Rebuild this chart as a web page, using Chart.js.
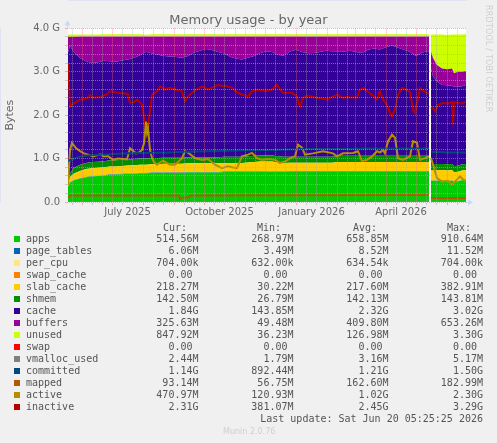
<!DOCTYPE html>
<html>
<head>
<meta charset="utf-8">
<title>Memory usage - by year</title>
<script src="https://cdn.jsdelivr.net/npm/chart.js@4.4.1/dist/chart.umd.min.js"></script>
<style>
    body {
        margin: 0;
        width: 497px;
        height: 443px;
        overflow: hidden;
        position: relative;
        background: #f0f0f0;
        font-family: "DejaVu Sans", sans-serif;
    }
    #chartBox { position: absolute; left: 0; top: 0; width: 497px; height: 222px; }
    #legend { position: absolute; left: 0; top: 0; width: 497px; height: 443px;
              font-family: "DejaVu Sans Mono", monospace; font-size: 10px; color: #555; }
    .cell { position: absolute; white-space: pre; line-height: 12px; }
    .swatch { position: absolute; width: 6px; height: 6px; }
    #rrdtool { position: absolute; left: 484px; top: 5px; writing-mode: vertical-rl;
               font-size: 8px; color: #cfcfcf; letter-spacing: 0.2px; }
    #munin { position: absolute; left: 223px; top: 427px; font-size: 8px; color: #cfcfcf; }
</style>
</head>
<body>
<div id="chartBox"><canvas id="memChart" width="497" height="222"></canvas></div>
<div id="legend"></div>
<div id="rrdtool">RRDTOOL / TOBI OETIKER</div>
<div id="munin">Munin 2.0.76</div>

<script>
// Series (values in G), x = days since the left edge of the graph
const seriesNames = ['apps', 'page_tables', 'per_cpu', 'swap_cache', 'slab_cache', 'shmem', 'cache',
    'buffers', 'unused', 'swap', 'vmalloc_used', 'committed', 'mapped', 'active', 'inactive'];
const seriesColors = ['#00CC00', '#0066B3', '#FFE680', '#FF8000', '#FFCC00', '#008F00', '#330099',
    '#990099', '#CCFF00', '#FF0000', '#808080', '#00487D', '#B35A00', '#B38F00', '#B30000'];

// Stacked areas share one x grid (362 = no data)
const days = [
    0, 2, 6, 12, 18, 24, 30, 36, 42, 48,
    54, 60, 66, 72, 78, 84, 90, 96, 102, 108,
    114, 120, 126, 132, 138, 144, 150, 156, 162, 168,
    174, 180, 186, 192, 198, 204, 210, 216, 222, 228,
    234, 240, 246, 252, 258, 264, 270, 276, 282, 288,
    294, 300, 306, 312, 318, 324, 330, 336, 342, 348,
    354, 360, 361, 362, 363, 365, 369, 374, 379, 384,
    386, 390, 394, 398
];
const apps = [
    0.36, 0.45, 0.50, 0.54, 0.57, 0.59, 0.60, 0.61, 0.63, 0.63,
    0.64, 0.65, 0.65, 0.66, 0.66, 0.67, 0.67, 0.67, 0.67, 0.67,
    0.67, 0.68, 0.68, 0.68, 0.68, 0.68, 0.68, 0.69, 0.69, 0.69,
    0.69, 0.69, 0.69, 0.69, 0.69, 0.70, 0.70, 0.70, 0.70, 0.70,
    0.70, 0.70, 0.70, 0.70, 0.70, 0.70, 0.70, 0.70, 0.70, 0.70,
    0.70, 0.70, 0.70, 0.70, 0.70, 0.70, 0.70, 0.70, 0.70, 0.70,
    0.70, 0.70, 0.70, null, 0.49, 0.49, 0.49, 0.49, 0.48, 0.49,
    0.47, 0.48, 0.50, 0.51
];
const pageTables = [
    0.004, 0.005, 0.006, 0.006, 0.007, 0.007, 0.007, 0.008, 0.008, 0.008,
    0.008, 0.008, 0.008, 0.008, 0.008, 0.009, 0.009, 0.009, 0.009, 0.009,
    0.009, 0.009, 0.009, 0.010, 0.010, 0.010, 0.010, 0.010, 0.010, 0.010,
    0.010, 0.010, 0.010, 0.010, 0.010, 0.010, 0.010, 0.010, 0.011, 0.011,
    0.011, 0.011, 0.011, 0.011, 0.011, 0.011, 0.011, 0.011, 0.011, 0.011,
    0.011, 0.011, 0.011, 0.011, 0.011, 0.011, 0.011, 0.011, 0.011, 0.011,
    0.011, 0.011, 0.011, null, 0.006, 0.006, 0.006, 0.006, 0.006, 0.006,
    0.006, 0.006, 0.006, 0.006
];
const perCpu = [
    0.0006, 0.0006, 0.0006, 0.0006, 0.0006, 0.0006, 0.0006, 0.0006, 0.0006, 0.0006,
    0.0006, 0.0006, 0.0006, 0.0006, 0.0006, 0.0006, 0.0006, 0.0006, 0.0006, 0.0006,
    0.0006, 0.0006, 0.0006, 0.0006, 0.0006, 0.0006, 0.0006, 0.0006, 0.0006, 0.0006,
    0.0006, 0.0006, 0.0006, 0.0006, 0.0006, 0.0006, 0.0006, 0.0006, 0.0006, 0.0006,
    0.0006, 0.0006, 0.0006, 0.0006, 0.0006, 0.0006, 0.0006, 0.0006, 0.0006, 0.0006,
    0.0006, 0.0006, 0.0006, 0.0006, 0.0006, 0.0006, 0.0006, 0.0006, 0.0006, 0.0006,
    0.0006, 0.0006, 0.0006, null, 0.0007, 0.0007, 0.0007, 0.0007, 0.0007, 0.0007,
    0.0007, 0.0007, 0.0007, 0.0007
];
const swapCache = [
    0, 0, 0, 0, 0, 0, 0, 0, 0, 0,
    0, 0, 0, 0, 0, 0, 0, 0, 0, 0,
    0, 0, 0, 0, 0, 0, 0, 0, 0, 0,
    0, 0, 0, 0, 0, 0, 0, 0, 0, 0,
    0, 0, 0, 0, 0, 0, 0, 0, 0, 0,
    0, 0, 0, 0, 0, 0, 0, 0, 0, 0,
    0, 0, 0, null, 0, 0, 0, 0, 0, 0,
    0, 0, 0, 0
];
const slabCache = [
    0.03, 0.12, 0.15, 0.17, 0.18, 0.18, 0.18, 0.18, 0.18, 0.18,
    0.18, 0.18, 0.19, 0.19, 0.19, 0.19, 0.19, 0.20, 0.20, 0.20,
    0.20, 0.20, 0.20, 0.20, 0.20, 0.20, 0.20, 0.20, 0.20, 0.20,
    0.20, 0.21, 0.22, 0.23, 0.23, 0.22, 0.20, 0.19, 0.19, 0.19,
    0.19, 0.19, 0.19, 0.19, 0.19, 0.19, 0.21, 0.21, 0.21, 0.21,
    0.21, 0.21, 0.21, 0.21, 0.21, 0.21, 0.21, 0.21, 0.21, 0.21,
    0.21, 0.21, 0.21, null, 0.24, 0.24, 0.24, 0.24, 0.24, 0.24,
    0.21, 0.21, 0.22, 0.22
];
const shmem = [
    0.03, 0.08, 0.13, 0.142, 0.142, 0.142, 0.142, 0.142, 0.142, 0.142,
    0.142, 0.142, 0.142, 0.142, 0.142, 0.142, 0.142, 0.142, 0.142, 0.142,
    0.142, 0.142, 0.142, 0.142, 0.142, 0.142, 0.142, 0.142, 0.142, 0.142,
    0.142, 0.142, 0.142, 0.142, 0.142, 0.142, 0.142, 0.142, 0.142, 0.142,
    0.142, 0.142, 0.142, 0.142, 0.142, 0.142, 0.142, 0.142, 0.142, 0.142,
    0.142, 0.142, 0.142, 0.142, 0.142, 0.142, 0.142, 0.142, 0.142, 0.142,
    0.142, 0.142, 0.142, null, 0.14, 0.14, 0.14, 0.14, 0.14, 0.14,
    0.14, 0.14, 0.14, 0.14
];
const cache = [
    3.02, 2.94, 2.66, 2.46, 2.34, 2.28, 2.29, 2.31, 2.28, 2.27,
    2.29, 2.30, 2.33, 2.38, 2.46, 2.41, 2.38, 2.34, 2.33, 2.32,
    2.30, 2.33, 2.41, 2.45, 2.49, 2.47, 2.42, 2.38, 2.30, 2.26,
    2.24, 2.27, 2.30, 2.35, 2.40, 2.38, 2.33, 2.33, 2.42, 2.46,
    2.41, 2.38, 2.39, 2.41, 2.44, 2.43, 2.41, 2.40, 2.42, 2.39,
    2.37, 2.44, 2.47, 2.45, 2.50, 2.54, 2.49, 2.44, 2.39, 2.30,
    2.38, 2.41, 2.41, null, 2.20, 2.02, 1.90, 1.82, 1.82, 1.80,
    1.83, 1.82, 1.80, 1.82
];
const buffers = [
    0.36, 0.21, 0.36, 0.49, 0.57, 0.61, 0.59, 0.56, 0.57, 0.58,
    0.55, 0.53, 0.49, 0.43, 0.35, 0.39, 0.42, 0.45, 0.46, 0.47,
    0.49, 0.45, 0.37, 0.33, 0.29, 0.31, 0.36, 0.39, 0.47, 0.51,
    0.53, 0.49, 0.45, 0.39, 0.34, 0.36, 0.43, 0.44, 0.35, 0.31,
    0.36, 0.39, 0.38, 0.36, 0.33, 0.34, 0.34, 0.35, 0.33, 0.36,
    0.38, 0.31, 0.28, 0.30, 0.25, 0.21, 0.26, 0.31, 0.36, 0.45,
    0.37, 0.34, 0.34, null, 0.39, 0.42, 0.38, 0.38, 0.37, 0.40,
    0.31, 0.34, 0.33, 0.32
];
const unused = [
    0.05, 0.05, 0.05, 0.05, 0.05, 0.05, 0.05, 0.05, 0.05, 0.05,
    0.05, 0.05, 0.05, 0.05, 0.04, 0.05, 0.05, 0.05, 0.05, 0.05,
    0.05, 0.05, 0.05, 0.05, 0.05, 0.05, 0.05, 0.05, 0.05, 0.05,
    0.05, 0.05, 0.05, 0.05, 0.05, 0.05, 0.05, 0.05, 0.05, 0.05,
    0.05, 0.05, 0.05, 0.05, 0.05, 0.05, 0.05, 0.05, 0.05, 0.05,
    0.05, 0.05, 0.05, 0.05, 0.05, 0.05, 0.05, 0.05, 0.05, 0.05,
    0.05, 0.05, 0.05, null, 0.39, 0.54, 0.70, 0.78, 0.79, 0.78,
    0.89, 0.86, 0.86, 0.85
];
const swap = [
    0, 0, 0, 0, 0, 0, 0, 0, 0, 0,
    0, 0, 0, 0, 0, 0, 0, 0, 0, 0,
    0, 0, 0, 0, 0, 0, 0, 0, 0, 0,
    0, 0, 0, 0, 0, 0, 0, 0, 0, 0,
    0, 0, 0, 0, 0, 0, 0, 0, 0, 0,
    0, 0, 0, 0, 0, 0, 0, 0, 0, 0,
    0, 0, 0, null, 0, 0, 0, 0, 0, 0,
    0, 0, 0, 0
];

// Lines, each with its own x points
const vmallocDays = [0, 361, 362, 363, 398];
const vmalloc = [0.002, 0.003, null, 0.002, 0.002];

const committedDays = [0, 6, 12, 25, 40, 60, 80, 100, 120, 140, 160, 180, 200, 220, 240, 260,
    280, 300, 320, 340, 361, 362, 363, 370, 380, 390, 398];
const committed = [0.95, 1.00, 1.05, 1.08, 1.10, 1.12, 1.13, 1.14, 1.16, 1.17, 1.18, 1.19, 1.20, 1.21, 1.22, 1.22,
    1.22, 1.23, 1.23, 1.23, 1.23, null, 1.15, 1.15, 1.14, 1.14, 1.14];

const mappedDays = [0, 2, 111, 112, 114, 121, 122, 361, 362, 363, 398];
const mapped = [0.10, 0.15, 0.15, 0.07, 0.10, 0.11, 0.15, 0.16, null, 0.09, 0.09];

const activeDays = [0, 2, 4, 6, 8, 12, 16, 20, 25, 30, 32, 36, 40, 45, 50, 55, 59, 62, 64, 68,
    71, 74, 76, 78, 79, 80, 82, 84, 86, 89, 95, 99, 102, 107, 114, 117, 121, 127, 134, 140,
    147, 154, 160, 164, 169, 174, 180, 184, 189, 194, 200, 207, 212, 218, 222, 227, 230, 234, 237, 245,
    255, 265, 269, 275, 285, 290, 294, 299, 304, 309, 312, 315, 317, 320, 324, 327, 330, 335, 342, 345,
    349, 352, 357, 361, 362, 363, 365, 369, 374, 380, 384, 387, 392, 395, 398];
const active = [0.40, 1.20, 1.36, 1.30, 1.24, 1.17, 1.12, 1.09, 1.05, 1.08, 1.10, 1.05, 1.06, 0.97, 1.00, 0.99, 0.98, 1.24, 1.20, 1.12,
    1.14, 1.20, 1.35, 1.85, 1.60, 1.70, 1.20, 1.01, 0.92, 0.86, 0.95, 0.90, 0.86, 0.86, 1.01, 1.17, 1.12, 1.01, 0.97, 0.99,
    0.86, 0.78, 0.82, 0.80, 0.78, 1.05, 1.09, 1.13, 1.01, 0.97, 0.99, 0.97, 0.90, 0.94, 1.01, 1.05, 1.32, 1.25, 1.09, 1.12,
    1.17, 1.12, 1.05, 1.12, 1.13, 1.17, 0.94, 0.97, 1.05, 1.17, 1.14, 1.20, 1.12, 1.40, 1.55, 1.48, 1.01, 0.97, 1.05, 1.40,
    1.36, 0.97, 1.01, 1.05, null, 1.01, 0.86, 0.55, 0.47, 0.49, 0.40, 0.47, 0.59, 0.52, 0.47];

const inactiveDays = [0, 2, 4, 8, 12, 16, 20, 22, 25, 32, 38, 42, 48, 52, 58, 60, 62, 66, 69, 72,
    74, 76, 77, 78, 79, 80, 82, 84, 89, 92, 97, 102, 107, 114, 117, 120, 127, 134, 140, 145,
    150, 155, 157, 164, 170, 176, 180, 184, 190, 197, 204, 209, 212, 215, 222, 225, 229, 231, 232, 235,
    239, 245, 249, 255, 259, 264, 269, 275, 279, 285, 289, 292, 296, 299, 305, 309, 312, 315, 319, 322,
    324, 327, 330, 334, 339, 342, 345, 347, 350, 352, 355, 359, 361, 362, 363, 365, 367, 370, 375, 380,
    384, 385, 386, 390, 394, 398];
const inactive = [3.20, 2.20, 2.25, 2.30, 2.36, 2.36, 2.40, 2.47, 2.40, 2.42, 2.47, 2.55, 2.52, 2.51, 2.50, 2.47, 2.28, 2.30, 2.36, 2.30,
    2.24, 1.95, 1.78, 1.70, 1.60, 1.75, 2.09, 2.47, 2.55, 2.66, 2.59, 2.63, 2.59, 2.55, 2.32, 2.43, 2.57, 2.66, 2.60, 2.64,
    2.70, 2.66, 2.68, 2.63, 2.51, 2.46, 2.43, 2.55, 2.59, 2.55, 2.59, 2.70, 2.60, 2.51, 2.52, 2.50, 2.43, 2.25, 2.20, 2.40,
    2.45, 2.42, 2.40, 2.38, 2.36, 2.42, 2.47, 2.40, 2.42, 2.40, 2.41, 2.59, 2.62, 2.55, 2.45, 2.36, 2.55, 2.36, 2.24, 2.05,
    1.97, 2.13, 2.47, 2.63, 2.57, 2.54, 2.13, 2.05, 2.40, 2.63, 2.57, 2.51, 2.49, null, 2.13, 2.17, 2.09, 2.24, 2.28, 2.27,
    2.30, 1.78, 2.30, 2.28, 2.27, 2.31];

// Axis: month starts (grid), label positions (mid month)
const monthStarts = [14, 44, 75, 106, 136, 167, 197, 228, 259, 287, 318, 348, 379];
const labelDays = [59.5, 151.5, 243.5, 333];
const labelTexts = ['July 2025', 'October 2025', 'January 2026', 'April 2026'];

// Legend table
const curVals = ['514.56M', '  6.06M', '704.00k', '  0.00 ', '218.27M', '142.50M', '  1.84G', '325.63M',
    '847.92M', '  0.00 ', '  2.44M', '  1.14G', ' 93.14M', '470.97M', '  2.31G'];
const minVals = ['268.97M', '  3.49M', '632.00k', '  0.00 ', ' 30.22M', ' 26.79M', '143.85M', ' 49.48M',
    ' 36.23M', '  0.00 ', '  1.79M', '892.44M', ' 56.75M', '120.93M', '381.07M'];
const avgVals = ['658.85M', '  8.52M', '634.54k', '  0.00 ', '217.60M', '142.13M', '  2.32G', '409.80M',
    '126.98M', '  0.00 ', '  3.16M', '  1.21G', '162.60M', '  1.02G', '  2.45G'];
const maxVals = ['910.64M', ' 11.52M', '704.00k', '  0.00 ', '382.91M', '143.81M', '  3.02G', '653.26M',
    '  3.30G', '  0.00 ', '  5.17M', '  1.50G', '182.99M', '  2.30G', '  3.29G'];
const lastUpdate = 'Last update: Sat Jun 20 05:25:25 2026';

const areaValues = [apps, pageTables, perCpu, swapCache, slabCache, shmem, cache, buffers, unused, swap];
const lineSeries = [
    [vmallocDays, vmalloc], [committedDays, committed], [mappedDays, mapped],
    [activeDays, active], [inactiveDays, inactive]
];

function toPoints(xs, ys) {
    return xs.map((x, i) => ({ x: x, y: ys[i] }));
}

// Datasets
const datasets = [];
areaValues.forEach((vals, i) => {
    datasets.push({
        label: seriesNames[i],
        data: toPoints(days, vals),
        backgroundColor: seriesColors[i],
        borderColor: 'rgba(0,0,0,0)',
        borderWidth: 0,
        pointRadius: 0,
        fill: i === 0 ? 'origin' : '-1',
        stack: 'mem',
        order: 1
    });
});
lineSeries.forEach((s, j) => {
    const i = areaValues.length + j;
    datasets.push({
        label: seriesNames[i],
        data: toPoints(s[0], s[1]),
        borderColor: seriesColors[i],
        backgroundColor: seriesColors[i],
        borderWidth: 2,
        pointRadius: 0,
        fill: false,
        stack: 'line_' + seriesNames[i],
        order: 0
    });
});

const MINOR = 'rgba(175,175,175,0.6)';
const MAJOR = 'rgba(235,120,135,0.6)';
const AXIS = '#CFD6F8';

// White plot background under the areas
const plotBackground = {
    id: 'plotBackground',
    beforeDraw(chart) {
        const { ctx, chartArea: a } = chart;
        ctx.save();
        ctx.fillStyle = '#ffffff';
        ctx.fillRect(a.left, a.top, a.right - a.left, a.bottom - a.top);
        ctx.restore();
    }
};

// rrdtool style arrows at the end of both axes
const axisArrows = {
    id: 'axisArrows',
    afterDraw(chart) {
        const { ctx, chartArea: a } = chart;
        ctx.save();
        ctx.strokeStyle = AXIS;
        ctx.fillStyle = AXIS;
        ctx.lineWidth = 1;
        ctx.beginPath();
        ctx.moveTo(a.left - 0.5, a.top);
        ctx.lineTo(a.left - 0.5, a.top - 4);
        ctx.moveTo(a.right, a.bottom + 0.5);
        ctx.lineTo(a.right + 3, a.bottom + 0.5);
        ctx.stroke();
        ctx.beginPath();
        ctx.moveTo(a.left - 3.5, a.top - 3);
        ctx.lineTo(a.left + 2.5, a.top - 3);
        ctx.lineTo(a.left - 0.5, a.top - 8);
        ctx.closePath();
        ctx.fill();
        ctx.beginPath();
        ctx.moveTo(a.right + 2, a.bottom - 2.5);
        ctx.lineTo(a.right + 2, a.bottom + 3.5);
        ctx.lineTo(a.right + 7, a.bottom + 0.5);
        ctx.closePath();
        ctx.fill();
        ctx.restore();
    }
};

Chart.defaults.font.family = '"DejaVu Sans", sans-serif';
Chart.defaults.color = '#666';

const ctx = document.getElementById('memChart').getContext('2d');
new Chart(ctx, {
    type: 'line',
    data: { datasets: datasets },
    options: {
        responsive: false,
        animation: false,
        events: [],
        layout: { padding: { top: 0.7, left: 0, right: 0, bottom: 0 } },
        plugins: {
            legend: { display: false },
            tooltip: { enabled: false },
            title: {
                display: true,
                text: 'Memory usage - by year',
                color: '#666',
                font: { size: 13, weight: 'normal' },
                padding: { top: 12, bottom: 0 }
            }
        },
        scales: {
            x: {
                type: 'linear',
                min: 0,
                max: 398,
                afterBuildTicks: scale => {
                    // month starts, plus minor lines on the 11th and 21st
                    const vals = [];
                    monthStarts.forEach(m => {
                        vals.push(m);
                        if (m + 10 < 398) vals.push(m + 10);
                        if (m + 20 < 398) vals.push(m + 20);
                    });
                    vals.push(4);
                    labelDays.forEach(m => vals.push(m));
                    vals.sort((a, b) => a - b);
                    scale.ticks = vals.map(v => ({ value: v }));
                },
                afterFit: scale => { scale.height = 20; },
                grid: {
                    z: 1,
                    tickLength: 3,
                    color: c => {
                        const v = c.tick ? c.tick.value : null;
                        if (labelDays.includes(v)) return 'rgba(0,0,0,0)';
                        return monthStarts.includes(v) ? MAJOR : MINOR;
                    }
                },
                border: { color: AXIS, dash: [1, 1] },
                ticks: {
                    autoSkip: false,
                    maxRotation: 0,
                    padding: 1,
                    color: '#666',
                    font: { size: 10 },
                    callback: v => {
                        const k = labelDays.indexOf(v);
                        return k >= 0 ? labelTexts[k] : '';
                    }
                }
            },
            y: {
                stacked: true,
                min: 0,
                max: 4,
                afterFit: scale => { scale.width = 68; },
                grid: {
                    z: 1,
                    tickLength: 3,
                    color: c => {
                        const v = c.tick ? c.tick.value : 0;
                        return Math.abs(v - Math.round(v)) < 1e-6 ? MAJOR : MINOR;
                    }
                },
                border: { color: AXIS, dash: [1, 1] },
                title: {
                    display: true,
                    text: 'Bytes',
                    color: '#666',
                    font: { size: 11 },
                    padding: { top: 4, bottom: 0 }
                },
                ticks: {
                    stepSize: 0.2,
                    autoSkip: false,
                    padding: 5,
                    color: '#666',
                    font: { size: 10 },
                    callback: v => {
                        if (Math.abs(v - Math.round(v)) > 1e-6) return '';
                        return Math.round(v) === 0 ? '0.0' : Math.round(v).toFixed(1) + ' G';
                    }
                }
            },
            yr: {
                position: 'right',
                display: true,
                afterFit: scale => { scale.width = 31; },
                grid: { display: false, drawTicks: false },
                border: { display: false },
                ticks: { display: false }
            }
        }
    },
    plugins: [plotBackground, axisArrows]
});

// Legend table below the graph
const legend = document.getElementById('legend');

function addCell(text, left, right, top) {
    const el = document.createElement('div');
    el.className = 'cell';
    el.textContent = text;
    el.style.top = top + 'px';
    if (left !== null) el.style.left = left + 'px';
    if (right !== null) el.style.right = right + 'px';
    legend.appendChild(el);
}

addCell('Cur:', 163, null, 221.5);
addCell('Min:', 257, null, 221.5);
addCell('Avg:', 353, null, 221.5);
addCell('Max:', 447, null, 221.5);

seriesNames.forEach((name, i) => {
    const mid = 239.3 + 12 * i;
    const sw = document.createElement('div');
    sw.className = 'swatch';
    sw.style.left = '14px';
    sw.style.top = (mid - 3) + 'px';
    sw.style.background = seriesColors[i];
    legend.appendChild(sw);
    addCell(name, 26, null, mid - 6);
    addCell(curVals[i], null, 497 - 198.5, mid - 6);
    addCell(minVals[i], null, 497 - 293.5, mid - 6);
    addCell(avgVals[i], null, 497 - 388.5, mid - 6);
    addCell(maxVals[i], null, 497 - 483, mid - 6);
});

addCell(lastUpdate, null, 497 - 483, 413.3);
</script>
</body>
</html>
